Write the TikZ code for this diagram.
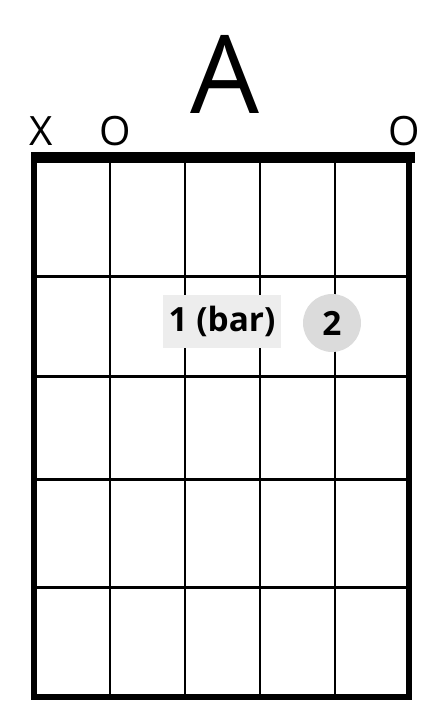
\documentclass[tikz,border=0pt]{standalone}
\usepackage{fontspec}
\setmainfont{Open Sans}

\begin{document}
\begin{tikzpicture}[
  x=0.02cm, y=-0.02cm,
  fret/.style={draw=black, line width=1.7pt},
  frame/.style={draw=black, line width=3.4pt},
  nut/.style={draw=black, line width=6.4pt},
  chordname/.style={font=\fontsize{62}{62}\selectfont, anchor=base, inner sep=0pt},
  marker/.style={font=\fontsize{23}{23}\selectfont, anchor=base, inner sep=0pt},
  barre/.style={
    rectangle, fill=black!7, minimum width=2.38cm, minimum height=1.06cm,
    font=\fontsize{19}{19}\selectfont\bfseries, inner sep=0pt
  },
  finger/.style={
    circle, fill=black!14, minimum size=1.16cm,
    font=\fontsize{19}{19}\selectfont\bfseries, inner sep=0pt
  }
]
\useasboundingbox (0,0) rectangle (428,721);

% --- Chord name ---
\node[chordname] (title) at (225, 113) {A};

% --- Open / muted strings ---
\node[marker] (mx) at (41, 145) {X};
\node[marker] (o2) at (115, 145) {O};
\node[marker] (o6) at (404, 145) {O};

% --- Strings ---
\draw[fret] (110, 158) -- (110, 697);
\draw[fret] (185, 158) -- (185, 697);
\draw[fret] (260, 158) -- (260, 697);
\draw[fret] (335, 158) -- (335, 697);

% --- Frets ---
\draw[fret] (34, 276) -- (409, 276);
\draw[fret] (34, 376) -- (409, 376);
\draw[fret] (34, 479) -- (409, 479);
\draw[fret] (34, 587) -- (409, 587);

% --- Outer frame and nut ---
\draw[frame] (34, 158) -- (34, 697) -- (409, 697) -- (409, 158);
\draw[nut] (31, 157.5) -- (415, 157.5);

% --- Fingering ---
\node[barre] (bar) at (222, 321) {1 (bar)};
\node[finger] (f2) at (332, 323) {2};

\end{tikzpicture}
\end{document}
